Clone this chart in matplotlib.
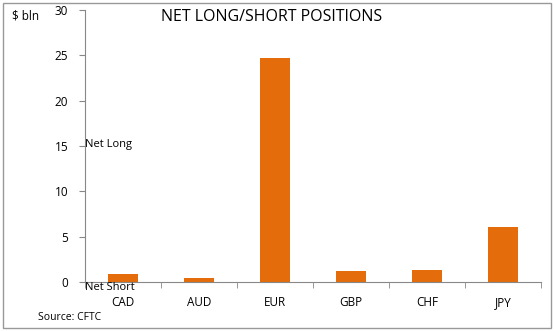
import matplotlib.pyplot as plt
from matplotlib.patches import Rectangle

currencies = ['CAD', 'AUD', 'EUR', 'GBP', 'CHF', 'JPY']
positions = [0.9, 0.45, 24.7, 1.2, 1.3, 6.05]
yticks = [0, 5, 10, 15, 20, 25, 30]

plt.rcParams['font.family'] = ['Open Sans', 'DejaVu Sans']

fig = plt.figure(figsize=(5.54, 3.31), dpi=100)
ax = fig.add_axes([0.1534, 0.148, 0.8231, 0.8218])

ax.bar(range(len(currencies)), positions, width=0.4, color='#E46C0A')
ax.set_xlim(-0.5, len(currencies) - 0.5)
ax.set_ylim(0, 30)
ax.set_yticks(yticks)
ax.set_xticks(range(len(currencies)))
ax.set_xticklabels(currencies, fontsize=8.5)
ax.set_xticks([i - 0.5 for i in range(len(currencies) + 1)], minor=True)
ax.tick_params(axis='x', which='major', length=0, pad=10)
ax.tick_params(axis='x', which='minor', length=4, direction='out', color='#888888')
ax.tick_params(axis='y', length=4, direction='out', color='#888888', labelsize=8.5, pad=8)

for side in ['top', 'right']:
    ax.spines[side].set_visible(False)
for side in ['left', 'bottom']:
    ax.spines[side].set_color('#888888')

ax.text(-0.5, 15.2, 'Net Long', fontsize=8, va='center', ha='left')
ax.text(-0.5, 0, 'Net Short', fontsize=8, va='top', ha='left')
ax.text(0.49, 0.95, 'NET LONG/SHORT POSITIONS', transform=fig.transFigure,
        fontsize=11.5, ha='center', va='center')
fig.text(0.022, 0.953, '$ bln', fontsize=8.5, ha='left', va='center')
fig.text(0.068, 0.042, 'Source: CFTC', fontsize=7.5, ha='left', va='center')

fig.patches.append(Rectangle((0.005, 0.009), 0.99, 0.982, transform=fig.transFigure,
                             fill=False, edgecolor='#999999', linewidth=1))

fig.savefig('out.png', dpi=100)
